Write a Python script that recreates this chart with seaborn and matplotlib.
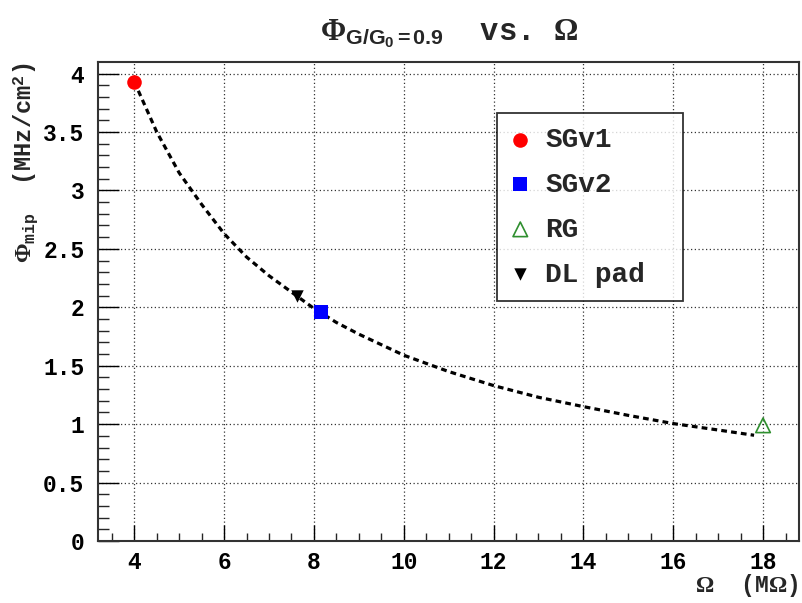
import matplotlib
matplotlib.use("Agg")
import matplotlib.pyplot as plt
import seaborn as sns
import pandas as pd
from matplotlib.ticker import MultipleLocator

# ---- data ----
curve_x = [4.0, 4.5, 5.0, 5.5, 6.0, 6.5, 7.0, 7.5, 8.0, 8.5, 9.0, 10.0, 11.0, 12.0, 13.0, 14.0, 15.0, 16.0, 17.0, 17.8]
curve_y = [3.93, 3.50, 3.15, 2.88, 2.63, 2.43, 2.27, 2.13, 1.99, 1.87, 1.77, 1.59, 1.45, 1.33, 1.23, 1.15, 1.075, 1.005, 0.95, 0.905]

series_names = ["SGv1", "SGv2", "RG", "DL pad"]
series_x = [4.0, 8.16, 18.0, 7.63]
series_y = [3.93, 1.96, 0.99, 2.10]

x_ticks = [4, 6, 8, 10, 12, 14, 16, 18]
y_ticks = [0, 0.5, 1, 1.5, 2, 2.5, 3, 3.5, 4]
y_ticklabels = ["0", "0.5", "1", "1.5", "2", "2.5", "3", "3.5", "4"]

# ---- style ----
sns.set_style("ticks")
plt.rcParams['font.family'] = ['Liberation Mono', 'DejaVu Sans']
plt.rcParams['font.weight'] = 'bold'
plt.rcParams['mathtext.fontset'] = 'custom'
plt.rcParams['mathtext.rm'] = 'Liberation Serif'
plt.rcParams['mathtext.it'] = 'Liberation Serif:italic'
plt.rcParams['mathtext.bf'] = 'Liberation Serif:bold'
plt.rcParams['mathtext.sf'] = 'Liberation Sans'
plt.rcParams['mathtext.tt'] = 'Liberation Mono:bold'

fig = plt.figure(figsize=(8.03, 6.03), dpi=100)
ax = fig.add_axes([0.1225, 0.1028, 0.8725, 0.7936])

curve_df = pd.DataFrame({"x": curve_x, "y": curve_y})
sns.lineplot(data=curve_df, x="x", y="y", ax=ax, color="black", lw=2.3,
             linestyle=(0, (1.8, 1.3)), sort=False, zorder=2)

styles = {
    "SGv1": dict(marker="o", s=110, color="#ff0000", edgecolor="#ff0000", linewidth=0),
    "SGv2": dict(marker="s", s=95, color="#0000ff", edgecolor="#0000ff", linewidth=0),
    "RG": dict(marker="^", s=110, facecolor="none", edgecolor="#2f8f2f", linewidth=1.2),
    "DL pad": dict(marker="v", s=80, color="black", edgecolor="black", linewidth=0),
}
for name, xv, yv in zip(series_names, series_x, series_y):
    d = pd.DataFrame({"x": [xv], "y": [yv]})
    sns.scatterplot(data=d, x="x", y="y", ax=ax, label=name, zorder=3, **styles[name])

ax.set_xlim(3.2, 18.8)
ax.set_ylim(0, 4.095)
ax.set_xticks(x_ticks)
ax.set_yticks(y_ticks)
ax.set_yticklabels(y_ticklabels)
ax.xaxis.set_minor_locator(MultipleLocator(0.5))
ax.yaxis.set_minor_locator(MultipleLocator(0.1))
ax.tick_params(axis='x', which='major', direction='in', length=11.3, width=1.0, labelsize=16.5, pad=7, colors='black')
ax.tick_params(axis='x', which='minor', direction='in', length=6, width=1.0)
ax.tick_params(axis='y', which='major', direction='in', length=15, width=1.0, labelsize=16.5, pad=10, colors='black')
ax.tick_params(axis='y', which='minor', direction='in', length=8, width=1.0)
for lab in ax.get_xticklabels() + ax.get_yticklabels():
    lab.set_fontweight('bold')

ax.grid(True, which='major', linestyle=(0, (1, 2)), color='black', lw=0.9, alpha=0.8)
for s in ax.spines.values():
    s.set_color('#333333')
    s.set_linewidth(1.5)
    s.set_visible(True)

ax.set_xlabel(r'$\Omega$  (M$\Omega$)', fontsize=16.5, fontweight='bold')
ax.xaxis.set_label_coords(0.999, -0.065)
ax.xaxis.label.set_ha('right')
ax.set_ylabel(r'$\Phi_{\mathtt{mip}}$  (MHz/cm$^{\mathtt{2}}$)', fontsize=17, fontweight='bold')
ax.yaxis.set_label_coords(-0.083, 1.0)
ax.yaxis.label.set_ha('right')

ax.set_title(r'$\Phi_{\mathsf{G/G}_{\mathsf{0}}\mathsf{=0.9}}$  vs. $\Omega$', fontsize=22, fontweight='bold', pad=16)

leg = ax.legend(loc='upper left', bbox_to_anchor=(0.5695, 0.51, 0.2655, 0.3845), mode='expand',
                frameon=True, fancybox=False, edgecolor='black', fontsize=20, borderpad=0.5,
                labelspacing=0.68, handletextpad=0.58, handlelength=0.65, borderaxespad=0)
leg.get_frame().set_linewidth(1.3)
for t in leg.get_texts():
    t.set_fontweight('bold')

fig.savefig("out.png", dpi=100)
